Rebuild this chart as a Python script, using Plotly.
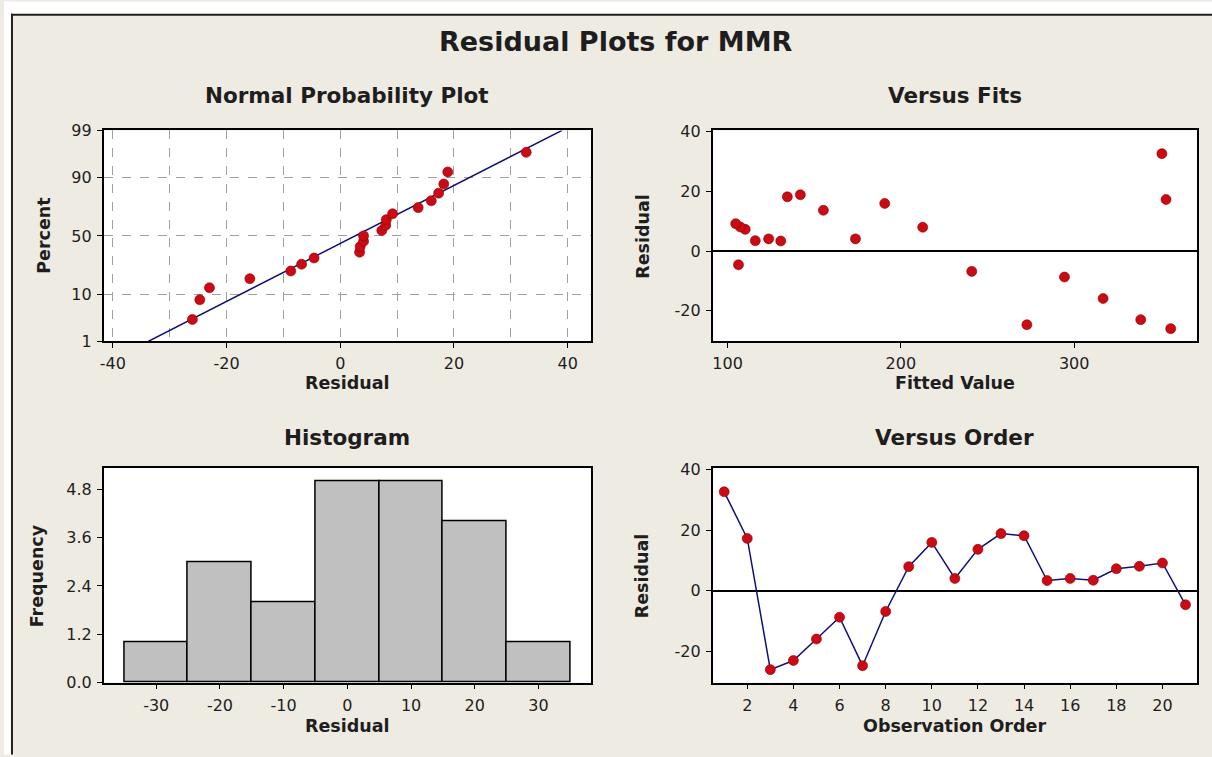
import plotly.graph_objects as go
from statistics import NormalDist, mean, stdev

# ---------------- data ----------------
observation_order = list(range(1, 22))
residuals = [32.7, 17.3, -26.0, -23.0, -15.9, -8.7, -24.7, -6.8, 8.0, 16.0, 4.1,
             13.7, 18.9, 18.2, 3.4, 4.1, 3.5, 7.3, 8.1, 9.2, -4.6]
fitted_values = [350.6, 353.0, 355.7, 338.4, 316.7, 294.4, 272.7, 240.9, 212.6, 190.7, 173.8,
                 155.3, 142.0, 134.5, 130.7, 123.7, 116.0, 110.2, 107.4, 104.7, 106.3]
percent_ticks = [1, 10, 50, 90, 99]
npp_x_ticks = [-40, -20, 0, 20, 40]
fits_x_ticks = [100, 200, 300]
resid_y_ticks = [-20, 0, 20, 40]
hist_x_ticks = [-30, -20, -10, 0, 10, 20, 30]
hist_y_ticks = [0.0, 1.2, 2.4, 3.6, 4.8]
order_x_ticks = [2, 4, 6, 8, 10, 12, 14, 16, 18, 20]

# ---------------- derived (probability plot) ----------------
nd = NormalDist()
n = len(residuals)
sorted_res = sorted(residuals)
npp_z = [nd.inv_cdf((i + 1 - 0.3) / (n + 0.4)) for i in range(n)]
mu, sd = mean(residuals), stdev(residuals)
zlim = nd.inv_cdf(0.99)
line_z = [-zlim, zlim]
line_x = [mu + sd * z for z in line_z]
pct_z = [nd.inv_cdf(p / 100) for p in percent_ticks]

W, H = 1212, 757
BG = "#EEEBE3"
RED = "#CC0A14"
NAVY = "#10107A"
FONT = "DejaVu Sans"
TXT = "#1E1E1E"


def px(x):
    return x / W


def py(y):
    return 1 - y / H


def lab(v, fmt="{:g}"):
    return fmt.format(v)


marker = dict(color=RED, size=10, line=dict(color="#8A0000", width=0.6))

fig = go.Figure()
fig.add_trace(go.Scatter(x=line_x, y=line_z, mode="lines", line=dict(color=NAVY, width=1.5),
                         xaxis="x", yaxis="y", showlegend=False))
fig.add_trace(go.Scatter(x=sorted_res, y=npp_z, mode="markers", marker=marker,
                         xaxis="x", yaxis="y", showlegend=False))
fig.add_trace(go.Scatter(x=fitted_values, y=residuals, mode="markers", marker=marker,
                         xaxis="x2", yaxis="y2", showlegend=False))
fig.add_trace(go.Histogram(x=residuals, xbins=dict(start=-35, end=35, size=10),
                           marker=dict(color="#C0C0C0", line=dict(color="black", width=1.5)),
                           xaxis="x3", yaxis="y3", showlegend=False))
fig.add_trace(go.Scatter(x=observation_order, y=residuals, mode="lines+markers",
                         line=dict(color=NAVY, width=1.5), marker=marker,
                         xaxis="x4", yaxis="y4", showlegend=False))

left_dom = [px(100), px(589)]
right_dom = [px(711), px(1197)]
top_dom = [py(341), py(124.5)]
bot_dom = [py(691), py(471)]

tickfont = dict(family=FONT, size=16, color=TXT)
common = dict(showline=True, linecolor="black", linewidth=1.5, mirror=True,
              ticks="outside", ticklen=5, tickwidth=1, tickcolor="black",
              tickfont=tickfont, zeroline=False, showgrid=False, ticklabelstandoff=2)
grid = dict(showgrid=True, gridcolor="#A0A0A0", gridwidth=1, griddash="dash")
nogrid = {k: v for k, v in common.items() if k != "showgrid"}
zl = {k: v for k, v in common.items() if k != "zeroline"}

fig.update_layout(
    width=W, height=H, autosize=False,
    margin=dict(l=0, r=0, t=0, b=0),
    paper_bgcolor=BG, plot_bgcolor="white",
    bargap=0,
    xaxis=dict(domain=left_dom, anchor="y", range=[-41.6, 44.1], tickvals=npp_x_ticks,
               ticktext=[lab(v) for v in npp_x_ticks],
               minor=dict(dtick=10, tick0=0, showgrid=True, gridcolor="#A0A0A0",
                          griddash="dash", ticks=""),
               **grid, **nogrid),
    yaxis=dict(domain=top_dom, anchor="x", range=[-zlim, zlim], tickvals=pct_z,
               ticktext=[lab(p) for p in percent_ticks], **grid, **nogrid),
    xaxis2=dict(domain=right_dom, anchor="y2", range=[91.4, 370.9], tickvals=fits_x_ticks,
                ticktext=[lab(v) for v in fits_x_ticks], **common),
    yaxis2=dict(domain=top_dom, anchor="x2", range=[-30.3, 40.5], tickvals=resid_y_ticks,
                ticktext=[lab(v) for v in resid_y_ticks],
                zeroline=True, zerolinecolor="black", zerolinewidth=1.5, **zl),
    xaxis3=dict(domain=left_dom, anchor="y3", range=[-38.25, 38.25], tickvals=hist_x_ticks,
                ticktext=[lab(v) for v in hist_x_ticks], **common),
    yaxis3=dict(domain=bot_dom, anchor="x3", range=[0, 5.32], tickvals=hist_y_ticks,
                ticktext=[lab(v, "{:.1f}") for v in hist_y_ticks], **common),
    xaxis4=dict(domain=right_dom, anchor="y4", range=[0.5, 21.5], tickvals=order_x_ticks,
                ticktext=[lab(v) for v in order_x_ticks], **common),
    yaxis4=dict(domain=bot_dom, anchor="x4", range=[-30.3, 40.5], tickvals=resid_y_ticks,
                ticktext=[lab(v) for v in resid_y_ticks],
                zeroline=True, zerolinecolor="black", zerolinewidth=1.5, **zl),
)


def ann(text, x, y, size, angle=0):
    fig.add_annotation(text=f"<b>{text}</b>", x=px(x), y=py(y), xref="paper", yref="paper",
                       showarrow=False, xanchor="center", yanchor="middle", textangle=angle,
                       font=dict(family=FONT, size=size, color=TXT))


ann("Residual Plots for MMR", 614, 33, 27)
ann("Normal Probability Plot", 344.5, 89, 21.5)
ann("Versus Fits", 954, 89, 21.5)
ann("Histogram", 344.5, 440, 21.5)
ann("Versus Order", 954, 440, 21.5)
ann("Residual", 344.5, 384, 17.5)
ann("Fitted Value", 954, 384, 17.5)
ann("Residual", 344.5, 735, 17.5)
ann("Observation Order", 954, 735, 17.5)
ann("Percent", 40, 232.75, 17.5, -90)
ann("Residual", 641, 232.75, 17.5, -90)
ann("Frequency", 34, 581, 17.5, -90)
ann("Residual", 641, 581, 17.5, -90)

# outer frame (white strip outside a dark border, as in the screenshot)
fig.add_shape(type="rect", xref="paper", yref="paper", x0=0, x1=px(7), y0=-0.01, y1=1.01,
              fillcolor="white", line=dict(width=0), layer="above")
fig.add_shape(type="rect", xref="paper", yref="paper", x0=0, x1=1.01, y0=py(5), y1=1.01,
              fillcolor="white", line=dict(width=0), layer="above")
fig.add_shape(type="line", xref="paper", yref="paper", x0=px(8), x1=px(8), y0=-0.01, y1=py(5),
              line=dict(color="#202020", width=2), layer="above")
fig.add_shape(type="line", xref="paper", yref="paper", x0=px(7), x1=1.01, y0=py(6), y1=py(6),
              line=dict(color="#202020", width=2), layer="above")

fig.write_html("out.html",
               config={"displayModeBar": False},
               post_script="document.body.style.margin='0';document.body.style.overflow='hidden';")
